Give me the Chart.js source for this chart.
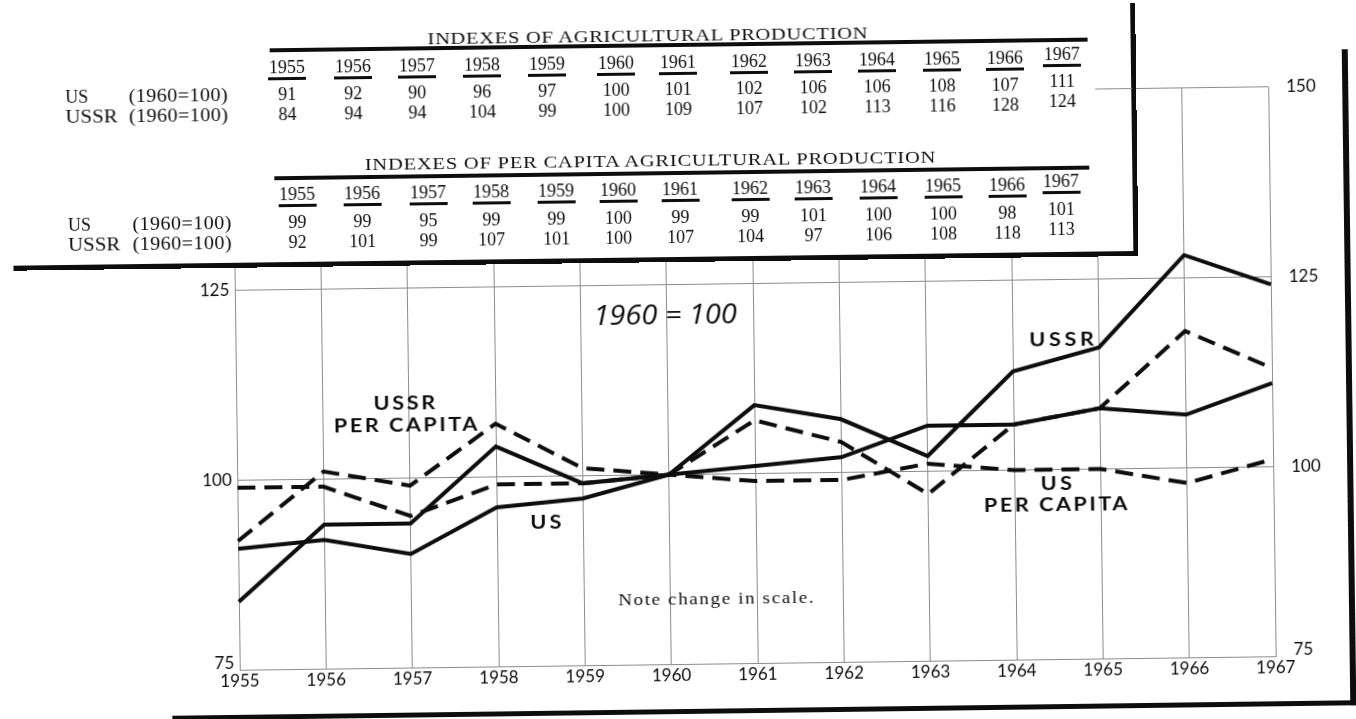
<!DOCTYPE html>
<html><head><meta charset="utf-8">
<script src="https://cdn.jsdelivr.net/npm/chart.js@4.4.1/dist/chart.umd.min.js"></script>
<style>
html,body{margin:0;padding:0;background:#fff;overflow:hidden;width:1356px;height:719px}
#stage{position:absolute;left:0;top:0;width:1356px;height:719px;transform:rotate(-0.75deg);transform-origin:755px 379px}
#c{position:absolute;left:0;top:0}
#tbl{position:absolute;left:0;top:0;width:1140px;height:258px;background:#fff}
.t{position:absolute;white-space:nowrap;line-height:1;color:#0d0d0d}
.bar{position:absolute;background:#0d0d0d}
</style></head><body>
<div id="stage"><canvas id="c" width="1356" height="719"></canvas><div id="tbl"></div></div>
<script>
// ---------- data ----------
const years = ['1955','1956','1957','1958','1959','1960','1961','1962','1963','1964','1965','1966','1967'];
const usIndex = [91, 92, 90, 96, 97, 100, 101, 102, 106, 106, 108, 107, 111];
const ussrIndex = [84, 94, 94, 104, 99, 100, 109, 107, 102, 113, 116, 128, 124];
const usPerCapita = [99, 99, 95, 99, 99, 100, 99, 99, 101, 100, 100, 98, 101];
const ussrPerCapita = [92, 101, 99, 107, 101, 100, 107, 104, 97, 106, 108, 118, 113];
const yTicks = [75, 100, 125, 150];
const rowLabel = '(1960=100)';

// ---------- chart ----------
const INK = '#0d0d0d';
const GRID = '#8c8c8c';
const tickLabels = {
  id: 'tickLabels',
  afterDraw(ch) {
    const {ctx, chartArea: a, scales: {x, y}} = ch;
    ctx.save();
    ctx.fillStyle = INK;
    ctx.font = '17px Lato';
    ctx.textBaseline = 'middle';
    ctx.textAlign = 'center';
    years.forEach((t, i) => ctx.fillText(t, x.getPixelForValue(i), a.bottom + 11));
    yTicks.forEach(v => {
      const py = y.getPixelForValue(v) + (v === yTicks[0] ? -7 : 0);
      ctx.textAlign = 'right'; ctx.fillText(String(v), a.left - 5.5, py);
      ctx.textAlign = 'left'; ctx.fillText(String(v), a.right + 18, py);
    });
    ctx.restore();
  }
};
const solid = {borderColor: INK, borderWidth: 4, borderDash: []};
const dashed = {borderColor: INK, borderWidth: 4, borderDash: [18, 9]};
const chart = new Chart(document.getElementById('c'), {
  type: 'line',
  data: {
    labels: years,
    datasets: [
      Object.assign({label: 'US', data: usIndex}, solid),
      Object.assign({label: 'USSR', data: ussrIndex}, solid),
      Object.assign({label: 'US per capita', data: usPerCapita}, dashed),
      Object.assign({label: 'USSR per capita', data: ussrPerCapita}, dashed)
    ]
  },
  options: {
    responsive: false, animation: false, devicePixelRatio: 1,
    layout: {padding: {left: 236, right: 84, top: 93.5, bottom: 55.5}},
    elements: {point: {radius: 0}, line: {tension: 0, borderJoinStyle: 'miter', borderCapStyle: 'butt', fill: false}},
    plugins: {legend: {display: false}, tooltip: {enabled: false}},
    scales: {
      x: {type: 'category', offset: false,
          grid: {color: GRID, lineWidth: 1, drawTicks: false},
          border: {display: false}, ticks: {display: false},
          afterFit(s) { s.height = 0; }},
      y: {min: 75, max: 150,
          afterBuildTicks(s) { s.ticks = yTicks.map(v => ({value: v})); },
          grid: {color: GRID, lineWidth: 1, drawTicks: false},
          border: {display: false}, ticks: {display: false},
          afterFit(s) { s.width = 0; }}
    }
  },
  plugins: [tickLabels]
});

// ---------- html text / table ----------
const stage = document.getElementById('stage');
const tbl = document.getElementById('tbl');
// place text centred (or left-aligned) at x,y; optionally widen to a target width,
// first by stretching the glyphs (up to maxS), then by letter spacing
function txt(parent, s, x, y, font, opt = {}) {
  const d = document.createElement('div');
  d.className = 't';
  d.textContent = s;
  d.style.font = font;
  d.style.lineHeight = '1';
  d.style.left = x + 'px';
  d.style.top = y + 'px';
  parent.appendChild(d);
  let sc = 1;
  if (opt.w) {
    const nat = d.offsetWidth;
    sc = Math.min(opt.w / nat, opt.maxS || 1.15);
    const n = s.length;
    const ls = (opt.w / sc - nat) / Math.max(1, n - 1);
    if (Math.abs(ls) > 0.05) {
      d.style.letterSpacing = ls + 'px';
      if (ls > 0) d.style.paddingLeft = ls + 'px'; else d.style.paddingRight = (-ls) + 'px';
    }
  }
  if (opt.left) {
    d.style.transformOrigin = '0 50%';
    d.style.transform = 'translate(0,-50%) scaleX(' + sc + ')';
  } else {
    d.style.transform = 'translate(-50%,-50%) scaleX(' + sc + ')';
  }
  return d;
}
function bar(parent, x1, y1, x2, y2, color) {
  const d = document.createElement('div');
  d.className = 'bar';
  Object.assign(d.style, {left: x1 + 'px', top: y1 + 'px', width: (x2 - x1) + 'px', height: (y2 - y1) + 'px'});
  if (color) d.style.background = color;
  parent.appendChild(d);
  return d;
}
const SERIF = '18px "Liberation Serif", "Times New Roman", serif';
const TITLE = '17px "Liberation Serif", "Times New Roman", serif';
function buildTable(L) {
  txt(tbl, L.title, L.titleX, L.titleY, TITLE, {w: L.titleW, maxS: 1.2});
  bar(tbl, L.ruleX1, L.ruleY - 2, 1092, L.ruleY + 2);
  years.forEach((yr, i) => {
    const cx = L.cols[i];
    const dy = i === years.length - 1 ? -3 : 0;
    txt(tbl, yr, cx, L.yearY + dy, SERIF);
    bar(tbl, cx - 19, L.ulY + dy - 1.5, cx + 19, L.ulY + dy + 1.5);
    L.rows.forEach(r => txt(tbl, String(r.vals[i]), cx, r.y + dy, SERIF));
  });
  L.rows.forEach(r => {
    if (r.name.length > 2) txt(tbl, r.name, L.labelX, r.y, SERIF, {left: true, w: 52, maxS: 1.15});
    else txt(tbl, r.name, L.labelX, r.y, SERIF, {left: true});
    txt(tbl, rowLabel, L.parenX, r.y, SERIF, {left: true, w: 99, maxS: 1.12});
  });
}
buildTable({
  title: 'INDEXES OF AGRICULTURAL PRODUCTION', titleX: 652, titleY: 34, titleW: 440,
  ruleX1: 274, ruleY: 44, yearY: 61, ulY: 72.5,
  cols: [291, 357, 421, 486, 551, 620, 682, 753, 817, 881, 946, 1009, 1066],
  labelX: 69, parenX: 132,
  rows: [{name: 'US', vals: usIndex, y: 87.5}, {name: 'USSR', vals: ussrIndex, y: 107.5}]
});
buildTable({
  title: 'INDEXES OF PER CAPITA AGRICULTURAL PRODUCTION', titleX: 653, titleY: 158.6, titleW: 571,
  ruleX1: 277, ruleY: 172, yearY: 187.5, ulY: 199.5,
  cols: [299.5, 364.5, 430.5, 493.5, 558.5, 620.5, 682.5, 752.5, 815.5, 880.5, 945.5, 1009.5, 1063.5],
  labelX: 70, parenX: 134,
  rows: [{name: 'US', vals: usPerCapita, y: 215.7}, {name: 'USSR', vals: ussrPerCapita, y: 236}]
});

// table frame
bar(stage, 15, 255.5, 1140.2, 260.5);
bar(stage, 1135.2, 8, 1140.2, 260.5);
// outer page frame
bar(stage, 1345.5, 57, 1351.5, 712.5);
bar(stage, 168, 707.5, 1351.5, 712.5);
// short piece of the top gridline that shows beside the table
(function () {
  const xs = chart.scales.x, ys = chart.scales.y;
  const x1 = xs.getPixelForValue(10), yy = ys.getPixelForValue(yTicks[yTicks.length - 1]);
  bar(stage, x1, yy - 0.5, 1136, yy + 0.5, GRID);
})();

// annotations
const ANN = '700 18px Lato, "Open Sans", sans-serif';
txt(stage, 'USSR', 404, 397.5, ANN, {w: 62, maxS: 1.2});
txt(stage, 'PER CAPITA', 404.5, 419.5, ANN, {w: 143, maxS: 1.2});
txt(stage, 'US', 544, 518.5, ANN, {w: 31, maxS: 1.2});
txt(stage, 'USSR', 1061.5, 343, ANN, {w: 65, maxS: 1.2});
txt(stage, 'US', 1054.5, 487, ANN, {w: 31, maxS: 1.2});
txt(stage, 'PER CAPITA', 1053.5, 508, ANN, {w: 143, maxS: 1.2});
txt(stage, '1960 = 100', 666, 312, 'italic 400 28px "Open Sans", Lato, sans-serif', {w: 144, maxS: 1.1});
txt(stage, 'Note change in scale.', 713, 597.5, '17px "Liberation Serif", serif', {w: 195, maxS: 1.12});
</script>
</body></html>
